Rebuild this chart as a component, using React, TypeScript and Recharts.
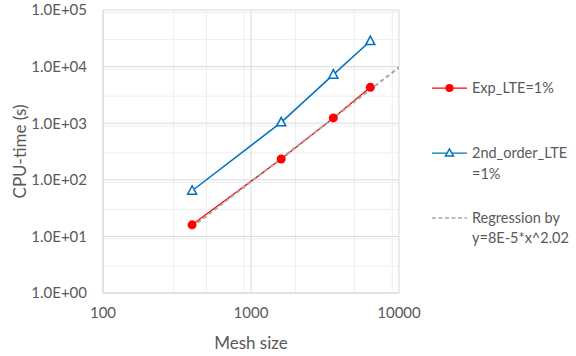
import React from "react";
import {
  ComposedChart,
  Line,
  XAxis,
  YAxis,
  CartesianGrid,
} from "recharts";

const meshSize = [400, 1600, 3600, 6400];
const expLTE = [16, 233, 1240, 4300];
const secondOrderLTE = [64, 1035, 7200, 28300];
const regressionX = [400, 10000];
const regressionY = [14.6, 9700];

const xTicks = [100, 1000, 10000];
const yTicks = [1, 10, 100, 1000, 10000, 100000];

const seriesNames = ["Exp_LTE=1%", "2nd_order_LTE=1%", "Regression by y=8E-5*x^2.02"];

const expData = meshSize.map((x, i) => ({ x, y: expLTE[i] }));
const secondData = meshSize.map((x, i) => ({ x, y: secondOrderLTE[i] }));
const regData = regressionX.map((x, i) => ({ x, y: regressionY[i] }));

const minorOf = (ticks: number[]) => {
  const out: number[] = [];
  for (let i = 0; i < ticks.length - 1; i++) {
    for (let k = 2; k <= 9; k++) out.push(ticks[i] * k);
  }
  return out;
};

const FONT = "Lato, 'Liberation Sans', sans-serif";
const TXT = "#595959";

const fmtY = (v: number) => {
  const e = Math.round(Math.log10(v));
  return "1.0E+" + (e < 10 ? "0" + e : String(e));
};

const Triangle = (props: any) => {
  const { cx, cy } = props;
  if (cx == null || cy == null) return null;
  return (
    <path
      d={`M${cx},${cy - 5} L${cx + 4.5},${cy + 3.5} L${cx - 4.5},${cy + 3.5} Z`}
      fill="#fff"
      stroke="#0070C0"
      strokeWidth={1.5}
    />
  );
};

const LegendBox = () => (
  <svg width={576} height={356} style={{ position: "absolute", left: 0, top: 0, pointerEvents: "none" }}>
    <g fontFamily={FONT} fontSize={14.5} fill={TXT}>
      <line x1={432} x2={467} y1={88} y2={88} stroke="#FF0000" strokeWidth={1.25} />
      <circle cx={449.5} cy={88} r={4} fill="#FF0000" />
      <text x={472} y={88} dy="0.35em">{seriesNames[0]}</text>

      <line x1={432} x2={467} y1={153} y2={153} stroke="#0070C0" strokeWidth={1.25} />
      <path d="M449.5,149 L453.5,156 L445.5,156 Z" fill="#fff" stroke="#0070C0" strokeWidth={1.5} />
      <text x={472} y={153} dy="0.35em">2nd_order_LTE</text>
      <text x={472} y={174} dy="0.35em">=1%</text>

      <line x1={432} x2={467} y1={218} y2={218} stroke="#A6A6A6" strokeWidth={1.5} strokeDasharray="4 2.5" />
      <text x={472} y={218} dy="0.35em">Regression by</text>
      <text x={472} y={238} dy="0.35em">y=8E-5*x^2.02</text>
    </g>
  </svg>
);

export default function App() {
  return (
    <div style={{ position: "absolute", left: 0, top: 0, width: 576, height: 356, background: "#fff" }}>
      <ComposedChart
        width={576}
        height={356}
        margin={{ top: 10, right: 177, left: 0, bottom: 0 }}
      >
        <CartesianGrid
          stroke="#EFEFEF"
          strokeWidth={1}
          horizontalValues={minorOf(yTicks)}
          verticalValues={minorOf(xTicks)}
        />
        <CartesianGrid
          stroke="#D9D9D9"
          strokeWidth={1}
          horizontalValues={yTicks}
          verticalValues={xTicks}
        />
        <XAxis
          dataKey="x"
          type="number"
          scale="log"
          domain={[100, 10000]}
          ticks={xTicks}
          allowDataOverflow
          height={63}
          tickSize={0}
          tickMargin={14}
          axisLine={{ stroke: "#D9D9D9" }}
          tick={{ fill: TXT, fontSize: 15, fontFamily: FONT }}
          label={{
            value: "Mesh size",
            position: "insideBottom",
            offset: 7,
            fill: TXT,
            fontSize: 17,
            fontFamily: FONT,
          }}
        />
        <YAxis
          dataKey="y"
          type="number"
          scale="log"
          domain={[1, 100000]}
          ticks={yTicks}
          allowDataOverflow
          width={103}
          tickSize={0}
          tickMargin={16}
          tickFormatter={fmtY}
          axisLine={{ stroke: "#D9D9D9" }}
          tick={{ fill: TXT, fontSize: 15, fontFamily: FONT }}
          label={{
            value: "CPU-time (s)",
            angle: -90,
            position: "insideLeft",
            offset: 20,
            style: { textAnchor: "middle" },
            fill: TXT,
            fontSize: 17,
            fontFamily: FONT,
          }}
        />
        <Line
          data={expData}
          dataKey="y"
          name={seriesNames[0]}
          stroke="#FF0000"
          strokeWidth={1.25}
          dot={false}
          isAnimationActive={false}
          legendType="none"
        />
        <Line
          data={secondData}
          dataKey="y"
          name={seriesNames[1]}
          stroke="#0070C0"
          strokeWidth={1.5}
          dot={<Triangle />}
          isAnimationActive={false}
        />
        <Line
          data={regData}
          dataKey="y"
          name={seriesNames[2]}
          stroke="#A6A6A6"
          strokeWidth={2}
          strokeDasharray="4 3"
          dot={false}
          isAnimationActive={false}
        />
        <Line
          data={expData}
          dataKey="y"
          name={seriesNames[0] + " markers"}
          stroke="none"
          dot={{ r: 4.5, fill: "#FF0000", stroke: "#FF0000", strokeWidth: 0 }}
          isAnimationActive={false}
          legendType="none"
        />
      </ComposedChart>
      <LegendBox />
    </div>
  );
}
